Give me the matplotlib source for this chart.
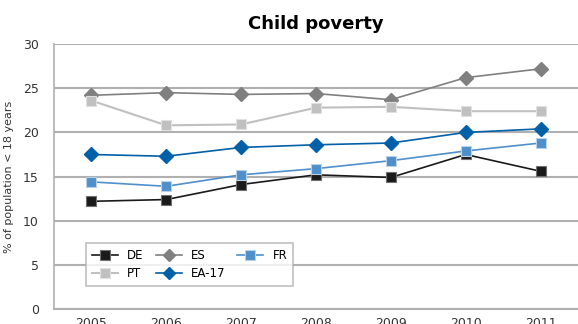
import matplotlib.pyplot as plt
import numpy as np

years = ['2005', '2006', '2007', '2008', '2009', '2010', '2011']
de = [12.2, 12.4, 14.1, 15.2, 14.9, 17.5, 15.6]
es = [24.2, 24.5, 24.3, 24.4, 23.7, 26.2, 27.2]
fr = [14.4, 13.9, 15.2, 15.9, 16.8, 17.9, 18.8]
pt = [23.6, 20.8, 20.9, 22.8, 22.9, 22.4, 22.4]
ea17 = [17.5, 17.3, 18.3, 18.6, 18.8, 20.0, 20.4]

fig = plt.figure(figsize=(5.78, 3.24), dpi=100)
ax = fig.add_axes([0.0934, 0.046, 0.9066, 0.818])

x = np.arange(len(years))
h_de, = ax.plot(x, de, color='#1a1a1a', marker='s', markersize=7,
                markeredgecolor='#707070', markeredgewidth=0.8, lw=1.2, label='DE')
h_es, = ax.plot(x, es, color='#808080', marker='D', markersize=7.5,
                markeredgecolor='#808080', lw=1.2, label='ES')
h_fr, = ax.plot(x, fr, color='#4f8fcb', marker='s', markersize=7,
                markeredgecolor='#b8d0e8', markeredgewidth=0.8, lw=1.2, label='FR')
h_pt, = ax.plot(x, pt, color='#c0c0c0', marker='s', markersize=7,
                markeredgecolor='#e0e0e0', markeredgewidth=0.8, lw=1.5, label='PT')
h_ea, = ax.plot(x, ea17, color='#0060a8', marker='D', markersize=7.5,
                markeredgecolor='#0060a8', lw=1.2, label='EA-17')

ax.set_xlim(-0.5, 6.5)
ax.set_ylim(0, 30)
ax.set_yticks(range(0, 31, 5))
ax.set_xticks(x)
ax.set_xticklabels(years)
ax.yaxis.grid(True, color='#b0b0b0', lw=1.5)
ax.set_axisbelow(True)
for s in ['top', 'right']:
    ax.spines[s].set_visible(False)
ax.spines['left'].set_color('#b0b0b0')
ax.spines['bottom'].set_color('#b0b0b0')
ax.spines['left'].set_linewidth(1.2)
ax.spines['bottom'].set_linewidth(1.5)
ax.tick_params(length=0, colors='#333333', labelsize=9)
ax.tick_params(axis='y', pad=11)
ax.tick_params(axis='x', pad=6)
ax.set_ylabel('% of population < 18 years', fontsize=8, color='#333333', labelpad=6)

ax.set_title('Child poverty', fontsize=13, fontweight='bold', pad=11)

leg = ax.legend([h_de, h_pt, h_es, h_ea, h_fr], ['DE', 'PT', 'ES', 'EA-17', 'FR'],
                ncol=3, loc='lower left', bbox_to_anchor=(0.061, 0.087),
                borderaxespad=0, fontsize=8.5, frameon=True, fancybox=False,
                handlelength=2.2, handletextpad=0.8, columnspacing=1.0,
                borderpad=0.5, labelspacing=0.45)
leg.get_frame().set_edgecolor('#b0b0b0')
leg.get_frame().set_linewidth(1.2)
for lh in leg.legend_handles:
    lh.set_markersize(6.5)

fig.savefig('out.png', dpi=100)
